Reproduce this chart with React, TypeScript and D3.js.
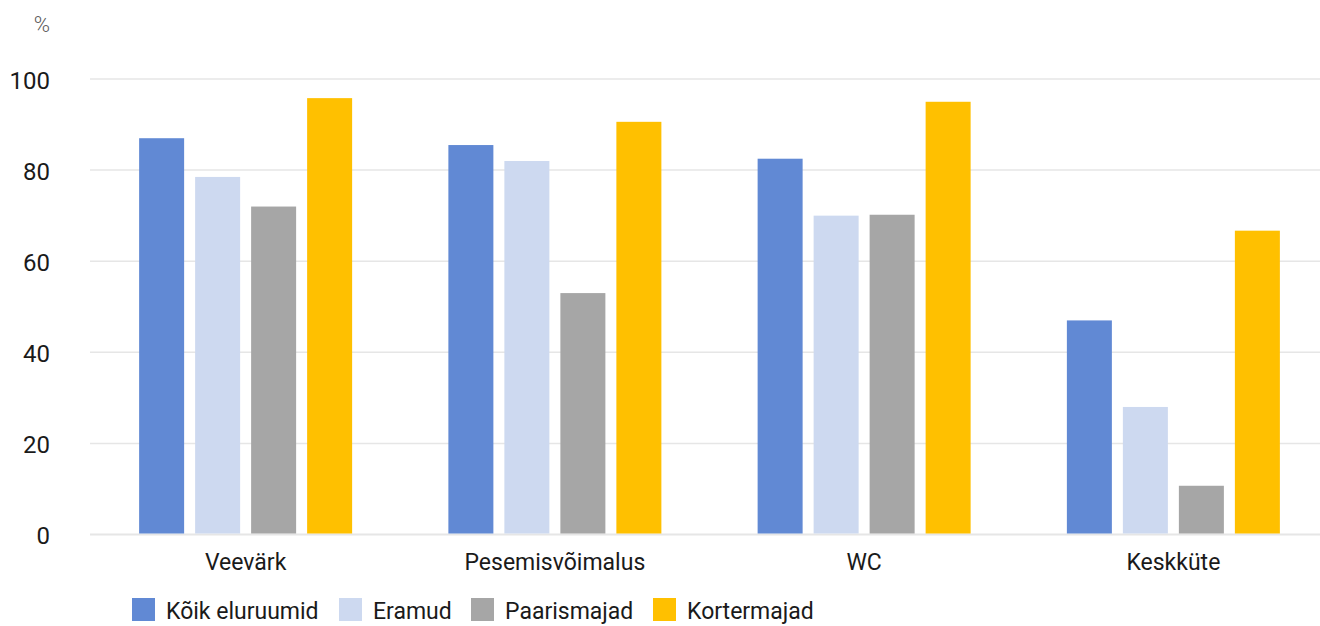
import React from "react";
import * as d3 from "d3";

const categories = ["Veevärk", "Pesemisvõimalus", "WC", "Keskküte"];
const seriesNames = ["Kõik eluruumid", "Eramud", "Paarismajad", "Kortermajad"];
const koik = [87, 85.5, 82.5, 47];
const eramud = [78.5, 82, 70, 28];
const paarismajad = [72, 53, 70.2, 10.7];
const kortermajad = [95.8, 90.6, 95, 66.7];
const yTicks = [0, 20, 40, 60, 80, 100];
const colors = ["#6189d4", "#cdd9f0", "#a6a6a6", "#ffc000"];

const W = 1320;
const H = 626;
const FONT = "Roboto, 'Noto Sans', sans-serif";

export default function App() {
  const series = [koik, eramud, paarismajad, kortermajad];
  const y = d3.scaleLinear().domain([0, 100]).range([534.5, 79]);
  const x0 = d3.scaleBand().domain(categories).range([91, 1328]).padding(0);
  const x1 = d3
    .scaleBand()
    .domain(seriesNames)
    .range([-106.5, 106.5])
    .paddingInner(11 / 56)
    .paddingOuter(0);

  const legendX = [132, 339, 471, 653];

  return (
    <svg
      width={W}
      height={H}
      style={{ position: "absolute", left: 0, top: 0, display: "block" }}
      fontFamily={FONT}
    >
      <rect width={W} height={H} fill="#ffffff" />
      <text x={42} y={32} fontSize={22} fontWeight={300} fill="#595959" textAnchor="middle">
        %
      </text>
      {yTicks.map((t) => (
        <g key={t}>
          <line
            x1={90}
            x2={1320}
            y1={y(t)}
            y2={y(t)}
            stroke="#e6e6e6"
            strokeWidth={t === 0 ? 2 : 1.5}
          />
          <text
            x={50}
            y={y(t) + 1.5}
            dy="0.35em"
            fontSize={24}
            textAnchor="end"
            fill="#1a1a1a"
          >
            {t}
          </text>
        </g>
      ))}
      {categories.map((c, ci) => (
        <g key={c}>
          {seriesNames.map((s, si) => {
            const cx = (x0(c) as number) + x0.bandwidth() / 2;
            const v = series[si][ci];
            return (
              <rect
                key={s}
                x={cx + (x1(s) as number)}
                width={x1.bandwidth()}
                y={y(v)}
                height={y(0) - y(v) - 1}
                fill={colors[si]}
              />
            );
          })}
          <text
            x={(x0(c) as number) + x0.bandwidth() / 2}
            y={570}
            fontSize={23}
            textAnchor="middle"
            fill="#1a1a1a"
          >
            {c}
          </text>
        </g>
      ))}
      {seriesNames.map((s, si) => (
        <g key={s}>
          <rect x={legendX[si]} y={598} width={23} height={23} fill={colors[si]} />
          <text x={legendX[si] + 34} y={619} fontSize={23} fill="#1a1a1a">
            {s}
          </text>
        </g>
      ))}
    </svg>
  );
}
